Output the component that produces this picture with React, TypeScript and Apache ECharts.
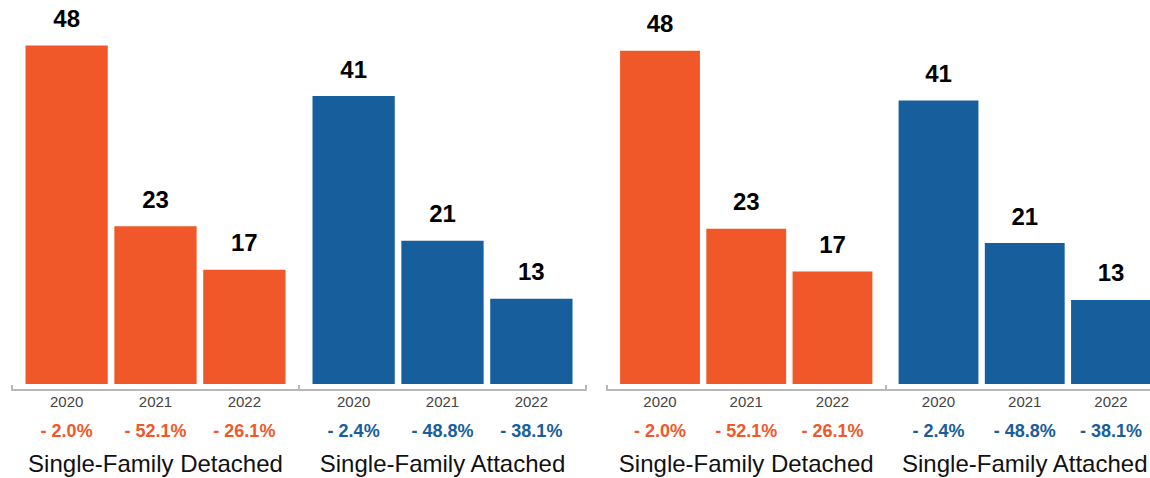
import React, { useEffect, useRef } from "react";
import * as echarts from "echarts";

const groups = ["Single-Family Detached", "Single-Family Attached"];
const years = ["2020", "2021", "2022"];
const detachedValues = [48, 23, 17];
const attachedValues = [41, 21, 13];
const detachedChange = ["- 2.0%", "- 52.1%", "- 26.1%"];
const attachedChange = ["- 2.4%", "- 48.8%", "- 38.1%"];

const ORANGE = "#F05829";
const BLUE = "#165E9C";
const AXIS = "#B8B8B8";
const FONT = "'Liberation Sans', Arial, Helvetica, sans-serif";

type Panel = { left: number; width: number; top: number; height: number; valueFont: number };

const panels: Panel[] = [
  { left: 12, width: 574, top: 31, height: 353, valueFont: 24 },
  { left: 607, width: 557, top: 36.5, height: 347.5, valueFont: 24 },
];

function buildOption() {
  const grid: any[] = [];
  const xAxis: any[] = [];
  const yAxis: any[] = [];
  const series: any[] = [];
  const changes = [detachedChange, attachedChange];
  panels.forEach((p, g) => {
    grid.push({ left: p.left, width: p.width, top: p.top, height: p.height, containLabel: false });
    xAxis.push({
      type: "category",
      gridIndex: g,
      data: groups,
      boundaryGap: true,
      offset: 6,
      axisLine: { show: true, lineStyle: { color: AXIS, width: 2 } },
      axisTick: { show: true, inside: true, length: 5, lineStyle: { color: AXIS, width: 2 } },
      axisLabel: {
        interval: 0,
        hideOverlap: false,
        margin: 61,
        fontSize: 24,
        lineHeight: 24,
        color: "#111",
        fontFamily: FONT,
      },
    });
    xAxis.push({ type: "category", gridIndex: g, data: groups, show: false });
    yAxis.push({ type: "value", gridIndex: g, min: 1.2, max: 50, show: false });
    years.forEach((yr, i) => {
      series.push({
        type: "bar",
        name: yr,
        xAxisIndex: 2 * g,
        yAxisIndex: g,
        barGap: "8%",
        barCategoryGap: "9.4%",
        data: [
          { value: detachedValues[i], itemStyle: { color: ORANGE } },
          { value: attachedValues[i], itemStyle: { color: BLUE } },
        ],
        label: {
          show: true,
          position: "top",
          distance: 15,
          fontSize: p.valueFont,
          fontWeight: "bold",
          color: "#000",
          fontFamily: FONT,
        },
      });
    });
    years.forEach((yr, i) => {
      series.push({
        type: "bar",
        name: yr + "-labels",
        xAxisIndex: 2 * g + 1,
        yAxisIndex: g,
        silent: true,
        barGap: "8%",
        barCategoryGap: "9.4%",
        itemStyle: { color: "rgba(0,0,0,0)" },
        data: [detachedValues[i], attachedValues[i]],
        label: {
          show: true,
          position: "insideBottom",
          distance: 0,
          offset: [0, 62],
          fontFamily: FONT,
          formatter: (pr: any) =>
            `{y|${yr}}\n{${pr.dataIndex === 0 ? "o" : "b"}|${changes[pr.dataIndex][i]}}`,
          rich: {
            y: { fontSize: 15, lineHeight: 30, color: "#444", fontFamily: FONT },
            o: { fontSize: 18, lineHeight: 30, color: ORANGE, fontWeight: "bold", fontFamily: FONT },
            b: { fontSize: 18, lineHeight: 30, color: BLUE, fontWeight: "bold", fontFamily: FONT },
          },
        },
      });
    });
  });
  return { animation: false, backgroundColor: "#fff", grid, xAxis, yAxis, series };
}

export default function App() {
  const ref = useRef<HTMLDivElement>(null);
  useEffect(() => {
    if (!ref.current) return;
    const chart = echarts.init(ref.current, undefined, { renderer: "svg" });
    chart.setOption(buildOption() as any);
    return () => chart.dispose();
  }, []);
  return (
    <div
      style={{
        position: "fixed",
        left: 0,
        top: 0,
        width: 1150,
        height: 478,
        overflow: "hidden",
        background: "#fff",
      }}
    >
      <div ref={ref} style={{ width: 1180, height: 478 }} />
    </div>
  );
}
